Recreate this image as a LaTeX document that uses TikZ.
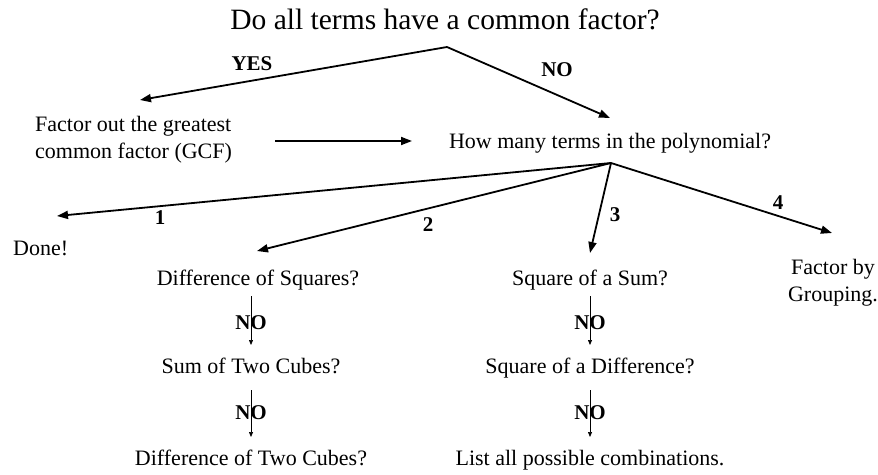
\documentclass[tikz,border=0pt]{standalone}
\usepackage{fontspec}
\setmainfont{Liberation Serif}
\usetikzlibrary{arrows.meta}
\tikzset{
  txt/.style={inner sep=0pt, font=\fontsize{22}{27}\selectfont},
  lbl/.style={inner sep=0pt, font=\fontsize{21}{24}\selectfont\bfseries},
  big/.style={-{Triangle[length=11pt,width=8pt]}, line width=1.8pt},
  small/.style={-{Triangle[length=5pt,width=4pt]}, line width=0.7pt},
}
\begin{document}
\begin{tikzpicture}[x=1pt,y=-1pt]
\useasboundingbox (0,0) rectangle (878,474);
% texts
\node[inner sep=0pt, font=\fontsize{29.5}{34}\selectfont, anchor=base] (title) at (445,29) {Do all terms have a common factor?};
\node[txt, align=left, anchor=west] (gcf) at (35,140) {Factor out the greatest\\common factor (GCF)};
\node[txt, anchor=base] (howmany) at (610,148) {How many terms in the polynomial?};
\node[txt, anchor=base west] (done) at (13,255) {Done!};
\node[txt, anchor=base] (dsq) at (258,285) {Difference of Squares?};
\node[txt, anchor=base] (ssum) at (590,285) {Square of a Sum?};
\node[txt, align=center] (group) at (833,283) {Factor by\\Grouping.};
\node[txt, anchor=base] (stc) at (251,373) {Sum of Two Cubes?};
\node[txt, anchor=base] (dtc) at (251,465) {Difference of Two Cubes?};
\node[txt, anchor=base] (sdiff) at (590,373) {Square of a Difference?};
\node[txt, anchor=base] (list) at (590,465) {List all possible combinations.};
% coordinates
\coordinate (apex) at (447,47);
\coordinate (yestip) at (140,100);
\coordinate (notip) at (610,118);
\coordinate (hs) at (275,141);
\coordinate (he) at (412,141);
\coordinate (apex2) at (611,163);
\coordinate (t1) at (57,216);
\coordinate (t2) at (257,251);
\coordinate (t3) at (590,253);
\coordinate (t4) at (832,233);
% main arrows
\draw[big] (apex) -- (yestip);
\draw[big] (apex) -- (notip);
\draw[big] (hs) -- (he);
\draw[big] (apex2) -- (t1);
\draw[big] (apex2) -- (t2);
\draw[big] (apex2) -- (t3);
\draw[big] (apex2) -- (t4);
\node[lbl] (yes) at (252,64) {YES};
\node[lbl] (no) at (557,70) {NO};
\node[lbl] (l1) at (160,218) {1};
\node[lbl] (l2) at (428,225) {2};
\node[lbl] (l3) at (615,215) {3};
\node[lbl] (l4) at (778,203) {4};
% NO chains
\coordinate (a1s) at (251,296); \coordinate (a1e) at (251,345);
\coordinate (a2s) at (251,390); \coordinate (a2e) at (251,437);
\coordinate (b1s) at (590,296); \coordinate (b1e) at (590,345);
\coordinate (b2s) at (590,390); \coordinate (b2e) at (590,437);
\node[lbl] (na1) at (251,323) {NO};
\node[lbl] (na2) at (251,413) {NO};
\node[lbl] (nb1) at (590,323) {NO};
\node[lbl] (nb2) at (590,413) {NO};
\draw[small] (a1s) -- (a1e);
\draw[small] (a2s) -- (a2e);
\draw[small] (b1s) -- (b1e);
\draw[small] (b2s) -- (b2e);
\end{tikzpicture}
\end{document}
